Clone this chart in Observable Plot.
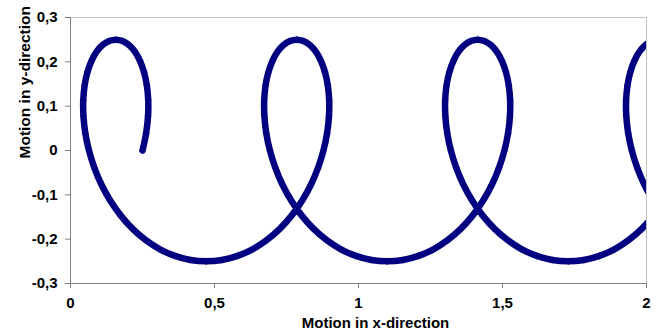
<!DOCTYPE html>
<html>
<head>
<meta charset="utf-8">
<script src="https://cdn.jsdelivr.net/npm/d3@7"></script>
<script src="https://cdn.jsdelivr.net/npm/@observablehq/plot@0.6"></script>
<style>
  html, body { margin: 0; padding: 0; background: #fff; }
  #chart { width: 659px; height: 336px; }
</style>
</head>
<body>
<div id="chart"></div>
<script>
// Motion in x-direction
const xValues = [
  0.2500, 0.2626, 0.2692, 0.2699, 0.2651, 0.2553, 0.2412, 0.2235, 0.2029, 0.1805,
  0.1571, 0.1337, 0.1112, 0.0907, 0.0730, 0.0588, 0.0491, 0.0443, 0.0450, 0.0515,
  0.0642, 0.0829, 0.1078, 0.1385, 0.1747, 0.2159, 0.2615, 0.3106, 0.3626, 0.4164,
  0.4712, 0.5261, 0.5799, 0.6319, 0.6810, 0.7266, 0.7677, 0.8039, 0.8347, 0.8595,
  0.8783, 0.8909, 0.8975, 0.8982, 0.8934, 0.8836, 0.8695, 0.8518, 0.8312, 0.8088,
  0.7854, 0.7620, 0.7396, 0.7190, 0.7013, 0.6872, 0.6774, 0.6726, 0.6733, 0.6798,
  0.6925, 0.7113, 0.7361, 0.7669, 0.8031, 0.8442, 0.8898, 0.9389, 0.9909, 1.0447,
  1.0996, 1.1544, 1.2082, 1.2602, 1.3093, 1.3549, 1.3961, 1.4323, 1.4630, 1.4879,
  1.5066, 1.5193, 1.5258, 1.5265, 1.5217, 1.5120, 1.4978, 1.4801, 1.4596, 1.4371,
  1.4137, 1.3903, 1.3679, 1.3473, 1.3296, 1.3155, 1.3057, 1.3009, 1.3016, 1.3082,
  1.3208, 1.3396, 1.3644, 1.3952, 1.4314, 1.4726, 1.5181, 1.5673, 1.6192, 1.6731,
  1.7279, 1.7827, 1.8365, 1.8885, 1.9377, 1.9832, 2.0244, 2.0606, 2.0913, 2.1162,
  2.1350, 2.1476, 2.1541, 2.1548, 2.1500, 2.1403, 2.1262, 2.1084, 2.0879, 2.0654,
  2.0420, 2.0186, 1.9962, 1.9757, 1.9579, 1.9438, 1.9340, 1.9292, 1.9299, 1.9365,
  1.9491, 1.9679, 1.9928, 2.0235, 2.0597
];
// Motion in y-direction
const yValues = [
  0, 0.0391, 0.0773, 0.1135, 0.1469, 0.1768, 0.2023, 0.2228, 0.2378, 0.2469,
  0.25, 0.2469, 0.2378, 0.2228, 0.2023, 0.1768, 0.1469, 0.1135, 0.0773, 0.0391,
  0, -0.0391, -0.0773, -0.1135, -0.1469, -0.1768, -0.2023, -0.2228, -0.2378, -0.2469,
  -0.25, -0.2469, -0.2378, -0.2228, -0.2023, -0.1768, -0.1469, -0.1135, -0.0773, -0.0391,
  0, 0.0391, 0.0773, 0.1135, 0.1469, 0.1768, 0.2023, 0.2228, 0.2378, 0.2469,
  0.25, 0.2469, 0.2378, 0.2228, 0.2023, 0.1768, 0.1469, 0.1135, 0.0773, 0.0391,
  0, -0.0391, -0.0773, -0.1135, -0.1469, -0.1768, -0.2023, -0.2228, -0.2378, -0.2469,
  -0.25, -0.2469, -0.2378, -0.2228, -0.2023, -0.1768, -0.1469, -0.1135, -0.0773, -0.0391,
  0, 0.0391, 0.0773, 0.1135, 0.1469, 0.1768, 0.2023, 0.2228, 0.2378, 0.2469,
  0.25, 0.2469, 0.2378, 0.2228, 0.2023, 0.1768, 0.1469, 0.1135, 0.0773, 0.0391,
  0, -0.0391, -0.0773, -0.1135, -0.1469, -0.1768, -0.2023, -0.2228, -0.2378, -0.2469,
  -0.25, -0.2469, -0.2378, -0.2228, -0.2023, -0.1768, -0.1469, -0.1135, -0.0773, -0.0391,
  0, 0.0391, 0.0773, 0.1135, 0.1469, 0.1768, 0.2023, 0.2228, 0.2378, 0.2469,
  0.25, 0.2469, 0.2378, 0.2228, 0.2023, 0.1768, 0.1469, 0.1135, 0.0773, 0.0391,
  0, -0.0391, -0.0773, -0.1135, -0.1469
];
const xTicks = [0, 0.5, 1, 1.5, 2];
const yTicks = [-0.3, -0.2, -0.1, 0, 0.1, 0.2, 0.3];
const xTitle = "Motion in x-direction";
const yTitle = "Motion in y-direction";

const data = xValues.map((x, i) => ({x, y: yValues[i]}));
const fmt = d => String(d).replace(".", ",");
const navy = "#000080";
const font = "'Liberation Sans', Arial, sans-serif";

const chart = Plot.plot({
  width: 659,
  height: 336,
  marginLeft: 70,
  marginRight: 13,
  marginTop: 17,
  marginBottom: 53,
  style: {fontFamily: font, fontSize: "15px", fontWeight: "bold", color: "#000", background: "#fff"},
  x: {domain: [0, 2], ticks: xTicks, tickFormat: fmt, label: null},
  y: {domain: [-0.3, 0.3], ticks: yTicks, tickFormat: fmt, label: null},
  marks: [
    Plot.frame({stroke: "#c0c0c0", strokeWidth: 1}),
    Plot.ruleX([0], {stroke: "#808080", strokeWidth: 1}),
    Plot.ruleY([-0.3], {stroke: "#808080", strokeWidth: 1}),
    Plot.axisX({ticks: xTicks, tickFormat: fmt, tickSize: 5, tickPadding: 9, stroke: "#808080", fill: "#000", fontWeight: "bold", label: null}),
    Plot.axisY({ticks: yTicks, tickFormat: fmt, tickSize: 5, tickPadding: 8, stroke: "#808080", fill: "#000", fontWeight: "bold", label: null}),
    Plot.line(data, {x: "x", y: "y", stroke: navy, strokeWidth: 6.5, curve: "catmull-rom", clip: true}),
    Plot.dot(data, {x: "x", y: "y", symbol: "diamond2", r: 3.2, fill: navy, stroke: "none", clip: true}),
    Plot.text([xTitle], {frameAnchor: "bottom", dx: 17, dy: 44, fontSize: 15, fontWeight: "bold", fill: "#000"}),
    Plot.text([yTitle], {frameAnchor: "left", dx: -45, dy: 8, rotate: -90, fontSize: 15.5, fontWeight: "bold", fill: "#000"})
  ]
});
document.getElementById("chart").appendChild(chart);
</script>
</body>
</html>
